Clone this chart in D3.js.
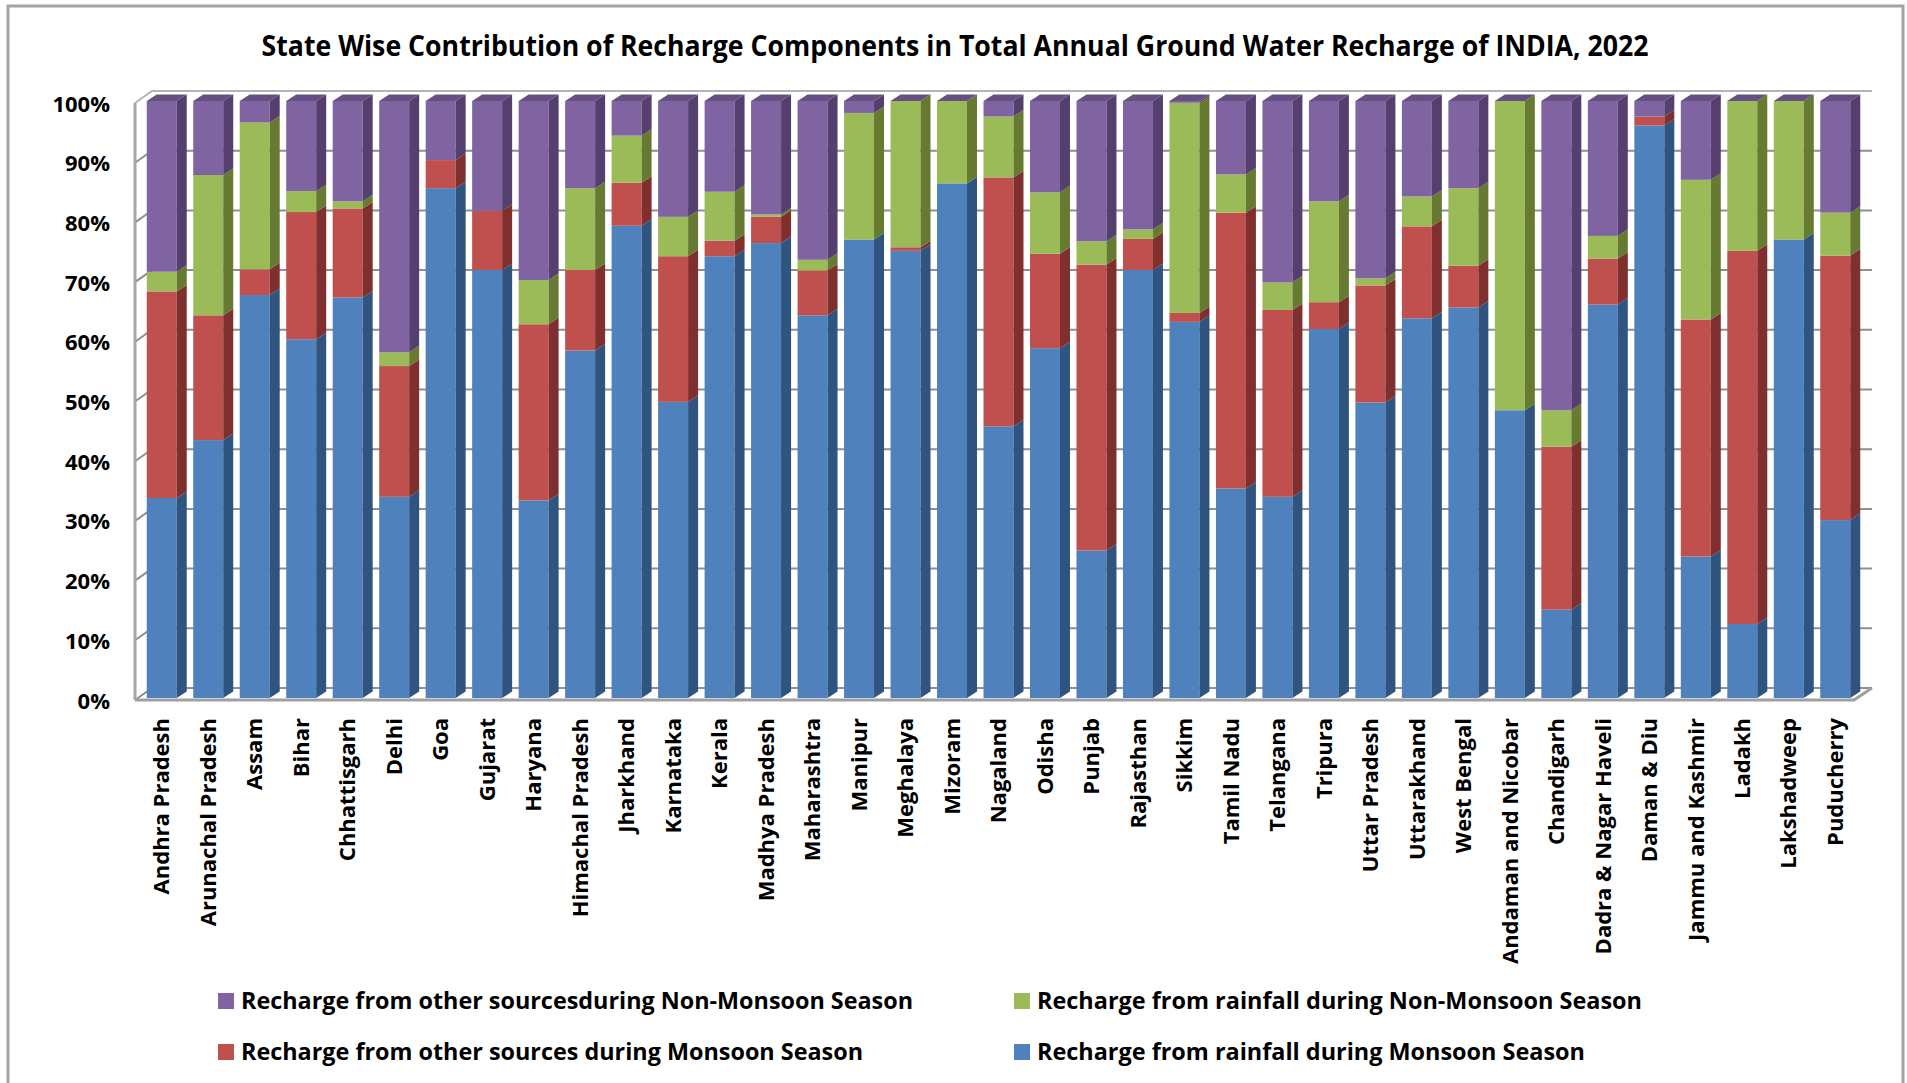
<!DOCTYPE html>
<html lang="en">
<head>
	<meta charset="UTF-8">
	<title>State Wise Recharge</title>
	<script src="https://d3js.org/d3.v7.min.js"></script>
	<style>
		body{margin:0;background:#fff;}
		text{font-family:"Open Sans",sans-serif;font-weight:700;fill:#000;}
		.wall{stroke:#8f8f8f;stroke-width:2px;fill:none;}
	</style>
</head>
<body>
	<script type="text/javascript">
		var states = ["Andhra Pradesh","Arunachal Pradesh","Assam","Bihar","Chhattisgarh","Delhi","Goa","Gujarat","Haryana","Himachal Pradesh","Jharkhand","Karnataka","Kerala","Madhya Pradesh","Maharashtra","Manipur","Meghalaya","Mizoram","Nagaland","Odisha","Punjab","Rajasthan","Sikkim","Tamil Nadu","Telangana","Tripura","Uttar Pradesh","Uttarakhand","West Bengal","Andaman and Nicobar","Chandigarh","Dadra & Nagar Haveli","Daman & Diu","Jammu and Kashmir","Ladakh","Lakshadweep","Puducherry"];

		var rainMonsoon = [33.5,43.2,67.5,60.1,67.1,33.7,85.4,71.7,33.1,58.2,79.1,49.6,74.0,76.2,64.1,76.8,74.9,86.2,45.5,58.6,24.7,71.7,63.0,35.1,33.7,61.8,49.5,63.6,65.4,48.2,14.8,65.9,95.9,23.7,12.4,76.8,29.8];
		var otherMonsoon = [34.6,20.9,4.3,21.3,14.9,21.9,4.7,9.9,29.5,13.5,7.2,24.4,2.6,4.4,7.5,0,0.6,0,41.7,15.8,47.9,5.2,1.5,46.2,31.3,4.5,19.6,15.4,7.0,0,27.3,7.7,1.5,39.7,62.5,0,44.3];
		var rainNonMonsoon = [3.3,23.5,24.6,3.5,1.2,2.3,0,0,7.4,13.7,7.9,6.6,8.2,0.4,1.8,21.2,24.5,13.8,10.2,10.3,3.9,1.6,35.2,6.4,4.6,16.9,1.2,5.0,13.0,51.8,6.1,3.8,0,23.4,25.1,23.2,7.2];
		var otherNonMonsoon = [28.6,12.4,3.6,15.1,16.8,42.1,9.9,18.4,30.0,14.6,5.8,19.4,15.2,19.0,26.6,2.0,0,0,2.6,15.3,23.5,21.5,0.3,12.3,30.4,16.8,29.7,16.0,14.6,0,51.8,22.6,2.6,13.2,0,0,18.7];

		var seriesKeys = ["rainMonsoon","otherMonsoon","rainNonMonsoon","otherNonMonsoon"];
		var seriesLabels = {
			rainMonsoon:"Recharge from rainfall during Monsoon Season",
			otherMonsoon:"Recharge from other sources during Monsoon Season",
			rainNonMonsoon:"Recharge from rainfall during Non-Monsoon Season",
			otherNonMonsoon:"Recharge from other sourcesduring Non-Monsoon Season"
		};
		var front = {rainMonsoon:"#4f81bd",otherMonsoon:"#c0504d",rainNonMonsoon:"#9bbb59",otherNonMonsoon:"#8064a2"};
		var side = {rainMonsoon:"#2f5480",otherMonsoon:"#7f2f2d",rainNonMonsoon:"#667a32",otherNonMonsoon:"#553f6e"};
		var yTicks = [0,10,20,30,40,50,60,70,80,90,100];

		var rows = states.map(function(s,i){
			return {state:s,rainMonsoon:rainMonsoon[i],otherMonsoon:otherMonsoon[i],rainNonMonsoon:rainNonMonsoon[i],otherNonMonsoon:otherNonMonsoon[i]};
		});
		var stacked = d3.stack().keys(seriesKeys)(rows);

		var svg = d3.select("body").append("svg")
			.attr("width",1907).attr("height",1083)
			.style("display","block");

		// outer frame, the bottom edge is cut off by the picture
		svg.append("path").attr("d","M8,1083V6H1903V1083")
			.attr("fill","#fff").attr("stroke","#a3a3a3").attr("stroke-width",3);

		svg.append("text").attr("x",955).attr("y",56)
			.attr("text-anchor","middle")
			.attr("font-size",29)
			.attr("textLength",1387).attr("lengthAdjust","spacingAndGlyphs")
			.text("State Wise Contribution of Recharge Components in Total Annual Ground Water Recharge of INDIA, 2022");

		var x = d3.scaleBand().domain(states).range([135,1855]).paddingInner(0.355).paddingOuter(0.1775);
		var yWall = d3.scaleLinear().domain([0,100]).range([700,103]);
		var yBar = d3.scaleLinear().domain([0,100]).range([698,101]);
		var wallDx = 17, wallDy = 12, barDx = 10, barDy = 6.5, barShift = 3.5;

		// walls and gridlines
		var walls = svg.append("g").attr("class","wall");
		walls.selectAll(".grid").data(yTicks).enter().append("path")
			.attr("d",function(d){
				var y0 = yWall(d);
				return "M135," + y0 + "L" + (135+wallDx) + "," + (y0-wallDy) + "H1872";
			})
			.attr("stroke",function(d){return d==100 ? "#b4b4b4" : "#8f8f8f";});
		walls.append("path").attr("d","M135," + yWall(100) + "V" + yWall(0)).attr("stroke","#a6a6a6").attr("stroke-width",3);
		walls.append("path").attr("d","M135," + yWall(0) + "H1854L1872," + (yWall(0)-wallDy))
			.attr("stroke","#a0a0a0").attr("stroke-width",3);

		// bars
		var bars = svg.append("g").selectAll("g").data(states).enter().append("g");
		bars.each(function(state,i){
			var g = d3.select(this);
			var x0 = x(state) + barShift, x1 = x0 + x.bandwidth();
			var lastTop = 0;
			stacked.forEach(function(layer){
				var a = layer[i][0], b = layer[i][1];
				if(b - a <= 0) return;
				var y0 = yBar(a), y1 = yBar(b);
				g.append("rect").attr("x",x0).attr("y",y1).attr("width",x.bandwidth()).attr("height",y0-y1).attr("fill",front[layer.key]);
				g.append("polygon").attr("points",[[x1,y0],[x1,y1],[x1+barDx,y1-barDy],[x1+barDx,y0-barDy]].join(" ")).attr("fill",side[layer.key]);
				lastTop = y1;
			});
			// the top face stays purple even when the last series is nearly empty
			g.append("polygon").attr("points",[[x0,lastTop],[x1,lastTop],[x1+barDx,lastTop-barDy],[x0+barDx,lastTop-barDy]].join(" ")).attr("fill","#664f82");
		});

		// axes
		var yAxis = svg.append("g").attr("transform","translate(135,1)")
			.call(d3.axisLeft(yWall).tickValues(yTicks).tickSize(0).tickPadding(25).tickFormat(function(d){return d + "%";}));
		yAxis.select(".domain").remove();
		yAxis.selectAll("text").attr("font-size",22).attr("font-family",null);

		var xAxis = svg.append("g").attr("transform","translate(" + barShift + ",700)")
			.call(d3.axisBottom(x).tickSize(0).tickPadding(0));
		xAxis.select(".domain").remove();
		xAxis.selectAll("text")
			.attr("font-size",22).attr("font-family",null)
			.attr("text-anchor","end")
			.attr("transform","rotate(-90)")
			.attr("x",-18).attr("y",0).attr("dy","0.35em");

		// legend, filled column by column like the original
		var legendOrder = ["otherNonMonsoon","rainNonMonsoon","otherMonsoon","rainMonsoon"];
		var legendX = d3.scaleOrdinal().domain(legendOrder).range([218,1014,218,1014]);
		var legendY = d3.scaleOrdinal().domain(legendOrder).range([1001,1001,1052,1052]);
		var legendLen = {otherNonMonsoon:672,rainNonMonsoon:605,otherMonsoon:622,rainMonsoon:548};
		var legend = svg.append("g").selectAll("g").data(legendOrder).enter().append("g")
			.attr("transform",function(d){return "translate(" + legendX(d) + "," + legendY(d) + ")";});
		legend.append("rect").attr("y",-8).attr("width",16).attr("height",16).attr("fill",function(d){return front[d];});
		legend.append("text").attr("x",23).attr("dy","0.35em").attr("font-size",24)
			.attr("textLength",function(d){return legendLen[d];}).attr("lengthAdjust","spacingAndGlyphs")
			.text(function(d){return seriesLabels[d];});
	</script>
</body>
</html>
